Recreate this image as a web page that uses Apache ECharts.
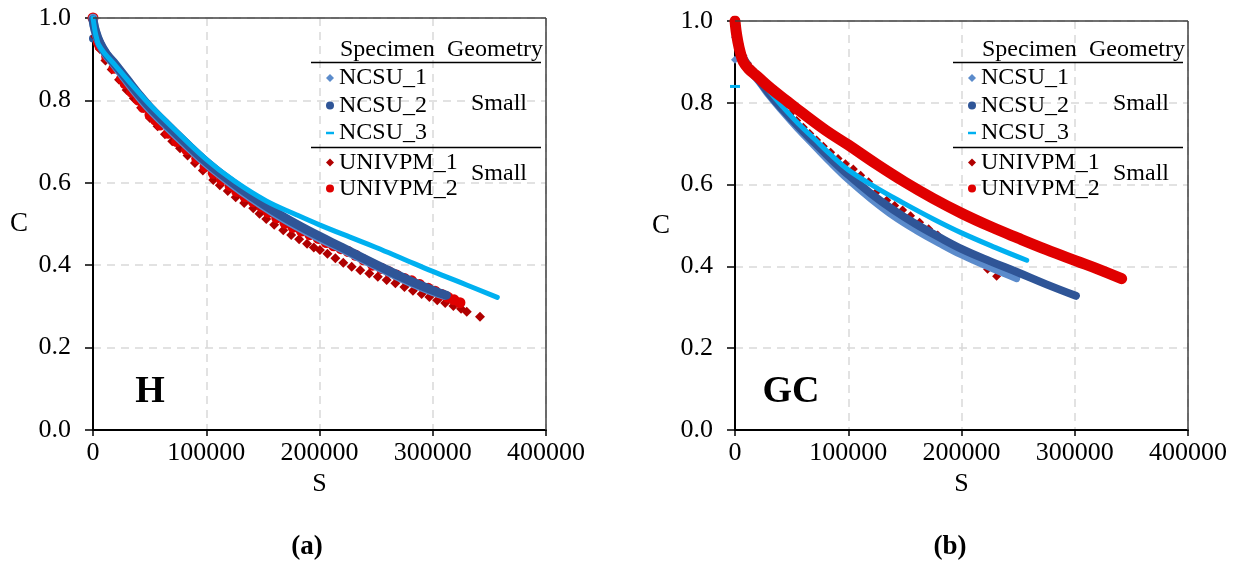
<!DOCTYPE html>
<html><head><meta charset="utf-8">
<script src="https://cdn.jsdelivr.net/npm/echarts@6/dist/echarts.min.js"></script>
<style>html,body{margin:0;padding:0;background:#fff}#c{width:1239px;height:566px}</style>
</head><body><div id="c"></div>
<script>
// ---------- data ----------
const seriesNames = ['NCSU_1', 'NCSU_2', 'NCSU_3', 'UNIVPM_1', 'UNIVPM_2'];
const panelLabels = ['(a)', '(b)'];
const materialLabels = ['H', 'GC'];
const xTickValues = [0, 100000, 200000, 300000, 400000];
const yTickValues = [0.0, 0.2, 0.4, 0.6, 0.8, 1.0];
const legendHeader = ['Specimen', 'Geometry'];
const geometryLabels = ['Small', 'Small'];

// Panel (a) H
const H_NCSU_1 = [[0,1.0],[2000,0.968],[6000,0.938],[12000,0.91],[18000,0.89],[30000,0.847],[40000,0.812],[50000,0.78],[65000,0.738],[80000,0.698],[100000,0.647],[120000,0.603],[140000,0.563],[160000,0.527],[180000,0.495],[200000,0.466],[220000,0.44],[240000,0.412],[260000,0.385],[280000,0.359],[300000,0.336],[310000,0.327]];
const H_NCSU_2 = [[0,0.995],[2000,0.97],[6000,0.94],[12000,0.912],[18000,0.893],[30000,0.851],[40000,0.816],[50000,0.784],[65000,0.742],[80000,0.702],[100000,0.651],[120000,0.607],[140000,0.567],[160000,0.531],[180000,0.499],[200000,0.47],[220000,0.443],[240000,0.415],[260000,0.388],[280000,0.362],[300000,0.339],[312000,0.327]];
const H_NCSU_2_extra = [[0,0.95]];
const H_NCSU_3 = [[0,1.0],[800,0.985],[2000,0.965],[3500,0.948],[5000,0.935],[10000,0.915],[20000,0.884],[35000,0.836],[50000,0.79],[70000,0.735],[100000,0.657],[125000,0.604],[153000,0.556],[180000,0.522],[200000,0.498],[227000,0.468],[250000,0.443],[275000,0.414],[300000,0.385],[330000,0.352],[357000,0.322]];
const H_UNIVPM_1 = [[2000,0.955],[6000,0.925],[11000,0.897],[16500,0.875],[23000,0.85],[29700,0.825],[36000,0.805],[42500,0.782],[50300,0.757],[57000,0.737],[63500,0.718],[70000,0.701],[76800,0.684],[83500,0.666],[90000,0.648],[97000,0.63],[106200,0.607],[112000,0.594],[119000,0.58],[126000,0.565],[133500,0.551],[141500,0.538],[147000,0.525],[153000,0.512],[160000,0.498],[168000,0.485],[175000,0.473],[182000,0.463],[189000,0.452],[195000,0.443],[200400,0.437],[207000,0.428],[214000,0.417],[221000,0.406],[228400,0.396],[236000,0.388],[244000,0.38],[251500,0.372],[259300,0.364],[267000,0.356],[275000,0.347],[282500,0.338],[290200,0.33],[297000,0.323],[304000,0.315],[311000,0.308],[318200,0.301],[325000,0.294],[330000,0.287],[341700,0.275]];
const H_UNIVPM_2 = [[0,1.0],[4700,0.94],[6000,0.932],[12100,0.906],[18500,0.878],[25300,0.853],[28300,0.841],[34000,0.82],[40000,0.801],[44400,0.783],[50300,0.765],[55000,0.752],[59200,0.74],[66500,0.72],[73900,0.7],[82700,0.68],[91600,0.659],[98900,0.639],[106200,0.623],[113600,0.607],[121000,0.593],[126900,0.579],[134200,0.566],[141500,0.554],[149000,0.541],[154800,0.528],[162200,0.515],[169500,0.502],[176500,0.492],[184000,0.483],[191500,0.474],[199000,0.465],[206000,0.455],[212500,0.447],[219000,0.44],[225400,0.433],[232000,0.424],[239000,0.413],[247000,0.4],[254900,0.392],[261500,0.384],[268000,0.376],[275000,0.368],[281400,0.362],[288500,0.353],[296000,0.344],[302000,0.337],[308000,0.329],[313500,0.322],[318800,0.316],[324000,0.309]];

// Panel (b) GC
const G_NCSU_1 = [[0,1.0],[2000,0.955],[4500,0.925],[9000,0.898],[15000,0.872],[22000,0.848],[30000,0.818],[40000,0.785],[55000,0.738],[70000,0.695],[85000,0.652],[100000,0.612],[120000,0.565],[140000,0.523],[160000,0.488],[180000,0.457],[200000,0.428],[225000,0.397],[248700,0.37]];
const G_NCSU_1_extra = [[0,0.905],[0,0.96]];
const G_NCSU_2 = [[0,1.0],[2000,0.96],[4500,0.928],[9000,0.902],[15000,0.876],[22000,0.852],[30000,0.823],[40000,0.79],[55000,0.745],[70000,0.703],[85000,0.662],[100000,0.624],[120000,0.578],[140000,0.538],[160000,0.503],[180000,0.472],[200000,0.443],[225000,0.413],[250000,0.385],[275000,0.356],[301000,0.328]];
const G_NCSU_3 = [[0,1.0],[2000,0.962],[4500,0.93],[9000,0.905],[15000,0.88],[22000,0.857],[30000,0.829],[40000,0.797],[55000,0.752],[70000,0.712],[85000,0.672],[100000,0.636],[125000,0.592],[148000,0.556],[175000,0.516],[200000,0.482],[230000,0.446],[257600,0.415]];
const G_NCSU_3_extra = [[0,0.84]];
const G_UNIVPM_1 = [[1000,0.975],[3500,0.945],[7000,0.915],[11000,0.897],[15500,0.882],[20500,0.866],[26000,0.848],[31500,0.83],[37000,0.812],[43000,0.792],[49000,0.773],[54500,0.757],[60300,0.74],[66000,0.725],[72000,0.709],[78000,0.694],[84500,0.679],[91000,0.664],[97500,0.651],[104500,0.638],[111000,0.623],[118000,0.607],[126000,0.585],[134000,0.562],[141000,0.549],[148000,0.538],[155000,0.524],[163000,0.508],[171000,0.492],[179000,0.477],[188000,0.459],[198000,0.441],[209000,0.419],[223000,0.393],[231000,0.376]];
const G_UNIVPM_2 = [[0,1.0],[1000,0.975],[2500,0.95],[4500,0.925],[7400,0.9],[12000,0.883],[19500,0.865],[31800,0.835],[46500,0.803],[60000,0.774],[80000,0.733],[100000,0.697],[125000,0.65],[150000,0.606],[175000,0.566],[200000,0.53],[225000,0.498],[250000,0.469],[275000,0.441],[301700,0.413],[320000,0.394],[341400,0.37]];

// ---------- styling ----------
const F = '"Liberation Serif", "Times New Roman", serif';
const COL = {NCSU_1:'#5B8BCB', NCSU_2:'#2F5597', NCSU_3:'#00B0F0', UNIVPM_1:'#B00000', UNIVPM_2:'#E00000'};

function band(name, gi, data, width) {
  return {name, type:'line', xAxisIndex:gi, yAxisIndex:gi, data, symbol:'none', smooth:0.4,
    lineStyle:{color:COL[name], width, cap:'round', join:'round'}, itemStyle:{color:COL[name]}, animation:false};
}
function dots(name, gi, data, symbol, size) {
  return {name, type:'scatter', xAxisIndex:gi, yAxisIndex:gi, data, symbol, symbolSize:size,
    itemStyle:{color:COL[name], opacity:1}, animation:false};
}
const dashSym = 'path://M0,0H10V3H0Z';

const series = [
  // panel a
  band('NCSU_1', 0, H_NCSU_1, 9),
  band('NCSU_2', 0, H_NCSU_2, 9),
  dots('NCSU_2', 0, H_NCSU_2_extra, 'circle', 8),
  band('NCSU_3', 0, H_NCSU_3, 5),
  dots('UNIVPM_1', 0, H_UNIVPM_1, 'diamond', 10),
  dots('UNIVPM_2', 0, H_UNIVPM_2, 'circle', 11),
  // panel b
  band('NCSU_1', 1, G_NCSU_1, 7),
  dots('NCSU_1', 1, G_NCSU_1_extra, 'diamond', 8),
  band('NCSU_2', 1, G_NCSU_2, 8),
  band('NCSU_3', 1, G_NCSU_3, 5),
  dots('NCSU_3', 1, G_NCSU_3_extra, dashSym, [10,3]),
  dots('UNIVPM_1', 1, G_UNIVPM_1, 'diamond', 9),
  band('UNIVPM_2', 1, G_UNIVPM_2, 11)
];

const grids = [
  {left:93, top:18, width:453, height:412},
  {left:735, top:21, width:453, height:409}
];

function xAxis(gi) {
  return {type:'value', gridIndex:gi, min:0, max:400000, interval:100000,
    axisLine:{show:true, onZero:false, lineStyle:{color:'#000', width:2}},
    axisTick:{show:true, length:6, lineStyle:{color:'#000', width:1.5}},
    axisLabel:{fontFamily:F, fontSize:26, color:'#000', margin:10,
      formatter: v => xTickValues.includes(v) ? String(v) : ''},
    splitLine:{show:true, lineStyle:{color:'#D9D9D9', width:1.5, type:[8,6]}},
    name:'S', nameLocation:'middle', nameGap:35,
    nameTextStyle:{fontFamily:F, fontSize:26, color:'#000'}};
}
function yAxis(gi) {
  return {type:'value', gridIndex:gi, min:0, max:1, interval:0.2,
    axisLine:{show:true, onZero:false, lineStyle:{color:'#000', width:2}},
    axisTick:{show:true, length:8, lineStyle:{color:'#000', width:1.5}},
    axisLabel:{fontFamily:F, fontSize:26, color:'#000', margin:22,
      formatter: v => yTickValues.some(t => Math.abs(t - v) < 1e-9) ? v.toFixed(1) : ''},
    splitLine:{show:true, lineStyle:{color:'#D9D9D9', width:1.5, type:[8,6]}},
    name:'C', nameLocation:'middle', nameRotate:0, nameGap:65,
    nameTextStyle:{fontFamily:F, fontSize:27, color:'#000'}};
}

function legends(x0) {
  const common = {orient:'vertical', left:x0, itemWidth:8, itemHeight:8, padding:0,
    selectedMode:false, textStyle:{fontFamily:F, fontSize:24, color:'#000', lineHeight:24}};
  return [
    Object.assign({}, common, {top:66, itemGap:3.5, data:[
      {name:seriesNames[0], icon:'diamond', itemStyle:{color:COL.NCSU_1}},
      {name:seriesNames[1], icon:'circle', itemStyle:{color:COL.NCSU_2}},
      {name:seriesNames[2], icon:'path://M0,0H8V2.5H0Z', itemStyle:{color:COL.NCSU_3}}]}),
    Object.assign({}, common, {top:150.5, itemGap:2, data:[
      {name:seriesNames[3], icon:'diamond', itemStyle:{color:COL.UNIVPM_1}},
      {name:seriesNames[4], icon:'circle', itemStyle:{color:COL.UNIVPM_2}}]})
  ];
}

function txt(x, y, text, size, weight, align) {
  return {type:'text', x, y, z:100, style:{text, fontFamily:F, fontSize:size, fontWeight:weight||'normal',
    fill:'#000', align:align||'left', verticalAlign:'middle', textAlign:align||'left', textVerticalAlign:'middle'}};
}
function seg(x1, y1, x2, y2, color, w) {
  return {type:'line', z:100, shape:{x1, y1, x2, y2}, style:{stroke:color, lineWidth:w}};
}
function decor(dx, i) {
  const g = grids[i];
  return [
    seg(g.left, g.top, g.left + g.width, g.top, '#404040', 1.5),
    seg(g.left + g.width, g.top, g.left + g.width, g.top + g.height, '#404040', 1.5),
    txt(340 + dx, 50, legendHeader[0], 24),
    txt(447 + dx, 50, legendHeader[1], 24),
    seg(311 + dx, 62.5, 541 + dx, 62.5, '#000', 1.5),
    seg(311 + dx, 147.5, 541 + dx, 147.5, '#000', 1.5),
    txt(471 + dx, 104, geometryLabels[0], 24),
    txt(471 + dx, 174, geometryLabels[1], 24),
    txt([150, 791][i], 392, materialLabels[i], 38, 'bold', 'center'),
    txt([307, 950][i], 547, panelLabels[i], 27, 'bold', 'center')
  ];
}

const chart = echarts.init(document.getElementById('c'), null, {renderer:'canvas'});
chart.setOption({
  backgroundColor:'#fff',
  animation:false,
  grid: grids,
  xAxis:[xAxis(0), xAxis(1)],
  yAxis:[yAxis(0), yAxis(1)],
  legend: legends(326).concat(legends(968)),
  series,
  graphic: decor(0, 0).concat(decor(642, 1))
});
</script></body></html>
